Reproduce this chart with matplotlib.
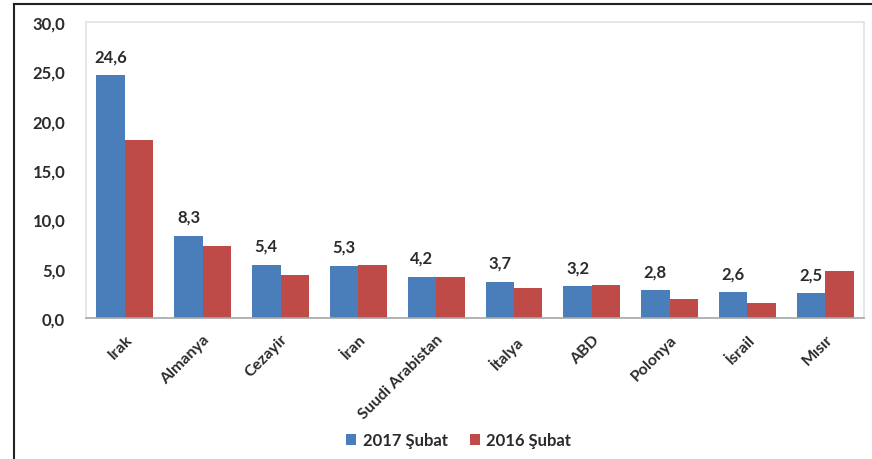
import matplotlib
matplotlib.use("Agg")
from matplotlib import pyplot as plt
from matplotlib.lines import Line2D
import numpy as np

plt.rcParams['font.family'] = ['Lato', 'DejaVu Sans']

countries = ["Irak", "Almanya", "Cezayir", "İran", "Suudi Arabistan",
             "İtalya", "ABD", "Polonya", "İsrail", "Mısır"]
feb_2017 = [24.6, 8.3, 5.4, 5.3, 4.2, 3.7, 3.2, 2.8, 2.6, 2.5]
feb_2016 = [18.0, 7.3, 4.4, 5.4, 4.2, 3.0, 3.3, 1.9, 1.5, 4.8]
yticks = [0, 5, 10, 15, 20, 25, 30]
series_names = ["2017 Şubat", "2016 Şubat"]

blue = "#4a7ebb"
red = "#be4b48"
text_col = "#2b2b2b"

fig = plt.figure(figsize=(8.72, 4.6), dpi=100)
ax = fig.add_axes([0.0986, 0.3065, 0.8924, 0.6435])

x = np.arange(len(countries))
w = 0.365
b1 = ax.bar(x - w / 2, feb_2017, w, color=blue, label=series_names[0])
b2 = ax.bar(x + w / 2, feb_2016, w, color=red, label=series_names[1])

# data labels only for 2017 bars
for xi, v in zip(x, feb_2017):
    ax.annotate(f"{v:.1f}".replace(".", ","), (xi - w / 2, v),
                xytext=(0, 8), textcoords="offset points",
                ha="center", va="bottom", fontsize=12,
                fontweight="bold", color=text_col)

ax.set_xlim(-0.5, len(countries) - 0.5)
ax.set_ylim(0, 30)
ax.set_yticks(yticks)
ax.set_yticklabels([f"{t:.1f}".replace(".", ",") for t in yticks],
                   fontsize=12, fontweight="bold", color=text_col)
ax.set_xticks(x)
ax.set_xticklabels(countries, rotation=45, ha="right", rotation_mode="anchor",
                   fontsize=11.5, fontweight="bold", color=text_col)
ax.tick_params(axis="both", length=0)
ax.tick_params(axis="y", pad=15)
ax.tick_params(axis="x", pad=10)

for side in ["top", "right", "left"]:
    ax.spines[side].set_color("#e2e2e2")
    ax.spines[side].set_linewidth(1.2)
ax.spines["bottom"].set_color("#a6a6a6")
ax.spines["bottom"].set_linewidth(1.2)

leg = fig.legend(handles=[b1, b2], loc="center", bbox_to_anchor=(0.526, 0.041),
                 ncol=2, frameon=False, handlelength=0.6, handleheight=0.6,
                 handletextpad=0.4, columnspacing=1.3,
                 prop={"size": 12, "weight": "bold"})
for t in leg.get_texts():
    t.set_color(text_col)

# outer frame (top and left edges)
fig.add_artist(Line2D([0.016, 1.0], [0.990, 0.990], color="#222222", lw=1.5))
fig.add_artist(Line2D([0.016, 0.016], [0.0, 0.990], color="#222222", lw=1.5))

fig.savefig("out.png", dpi=100)
